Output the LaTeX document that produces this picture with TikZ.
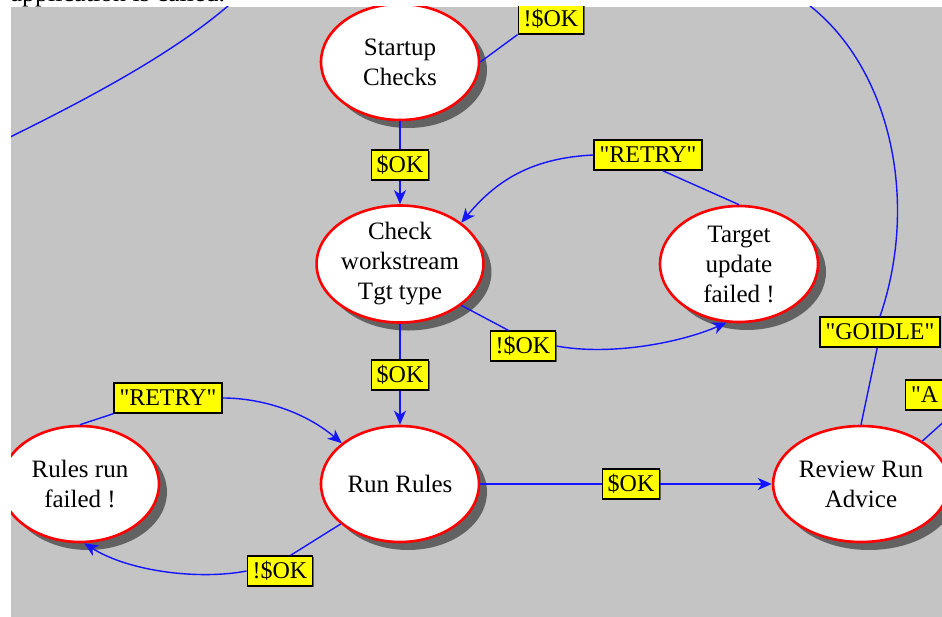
\documentclass[tikz,border=0pt]{standalone}
\usepackage{fontspec}
\setmainfont{Liberation Serif}[Ligatures=TeXOff]
\usetikzlibrary{arrows.meta,shadows,shapes.geometric}

\definecolor{panelgray}{RGB}{196,196,196}
\definecolor{shadowgray}{RGB}{98,98,98}
\definecolor{linkblue}{RGB}{20,20,255}
\definecolor{statered}{RGB}{255,0,0}
\definecolor{tagyellow}{RGB}{255,255,0}

\tikzset{
  state/.style={ellipse, draw=statered, line width=2.6bp, fill=white,
    minimum width=158bp, minimum height=116bp, inner sep=0pt, align=center,
    font=\fontsize{25bp}{30bp}\selectfont,
    drop shadow={shadow xshift=8bp, shadow yshift=-8bp, opacity=1, fill=shadowgray}},
  tag/.style={rectangle, draw=black, line width=1.3bp, fill=tagyellow,
    minimum height=30bp, inner xsep=5.5bp, inner ysep=1bp,
    font=\fontsize{24bp}{28bp}\selectfont,
    drop shadow={shadow xshift=1.2bp, shadow yshift=-1.2bp, opacity=1, fill=shadowgray}},
  link/.style={draw=linkblue, line width=1.4bp},
  arrowlink/.style={link, -{Stealth[length=14bp, width=12bp, inset=4bp]}},
}

\begin{document}
\begin{tikzpicture}[x=1bp, y=-1bp]
\useasboundingbox (0,0) rectangle (942,617);
\fill[white] (0,0) rectangle (942,617);

% caption line above the panel, mostly outside the page
\node[anchor=base west, inner sep=0pt, font=\fontsize{26bp}{30bp}\selectfont]
  (caption) at (10.5,1.5) {application is called.};

\begin{scope}
\clip (11,7) rectangle (942,617);
\fill[panelgray] (11,7) rectangle (942,617);

% states
\node[state] (start)  at (400,62)  {Startup\\Checks};
\node[state] (check)  at (400,264) {Check\\workstream\\Tgt type};
\node[state] (target) at (739,264) {Target\\update\\failed !};
\node[state] (run)    at (400,484) {Run Rules};
\node[state] (failed) at (80,484)  {Rules run\\failed !};
\node[state] (review) at (861,484) {Review Run\\Advice};

% transition tags
\node[tag] (oktop)  at (551,19)  {!\$OK};
\node[tag] (ok1)    at (400,165) {\$OK};
\node[tag] (retry1) at (648,155) {"RETRY"};
\node[tag] (nok1)   at (523,346) {!\$OK};
\node[tag] (ok2)    at (400,375) {\$OK};
\node[tag] (goidle) at (880,332) {"GOIDLE"};
\node[tag, anchor=west, text width=90bp, align=left] (atag) at (905,395) {"A};
\node[tag] (retry2) at (168,398) {"RETRY"};
\node[tag] (nok2)   at (280,571) {!\$OK};
\node[tag] (ok3)    at (631,484) {\$OK};

% transitions leaving the panel
\coordinate (farleft)  at (0,142);
\coordinate (fartop)   at (237,-2);
\coordinate (topright) at (805,2);
\draw[link] (farleft) .. controls (90,98) and (180,50) .. (fartop);
\draw[link] (topright) .. controls (890,65) and (920,200) .. (goidle.north);
\draw[link] (goidle.-100) -- (review.north);
\draw[link] (start.east) -- (oktop.south west);
\draw[link] (review.35) -- (atag.south);

% main flow
\draw[link] (start.south) -- (ok1.north);
\draw[arrowlink] (ok1.south) -- (check.north);
\draw[link] (check.south) -- (ok2.north);
\draw[arrowlink] (ok2.south) -- (run.north);
\draw[link] (run.east) -- (ok3.west);
\draw[arrowlink] (ok3.east) -- (review.west);

% target update failure and retry
\draw[link] (check.-34) -- (nok1.133);
\draw[arrowlink] (nok1.east) .. controls (610,356) and (680,343) .. (target.-102);
\draw[link] (target.north) -- (retry1.-47);
\draw[arrowlink] (retry1.west) .. controls (530,158) and (495,182) .. (check.34);

% rules failure and retry
\draw[link] (run.-146) -- (nok2.56);
\draw[arrowlink] (nok2.west) .. controls (200,580) and (130,572) .. (failed.-86);
\draw[link] (failed.north) -- (retry2.-164);
\draw[arrowlink] (retry2.east) .. controls (262,398) and (305,412) .. (run.145);
\end{scope}
\end{tikzpicture}
\end{document}
